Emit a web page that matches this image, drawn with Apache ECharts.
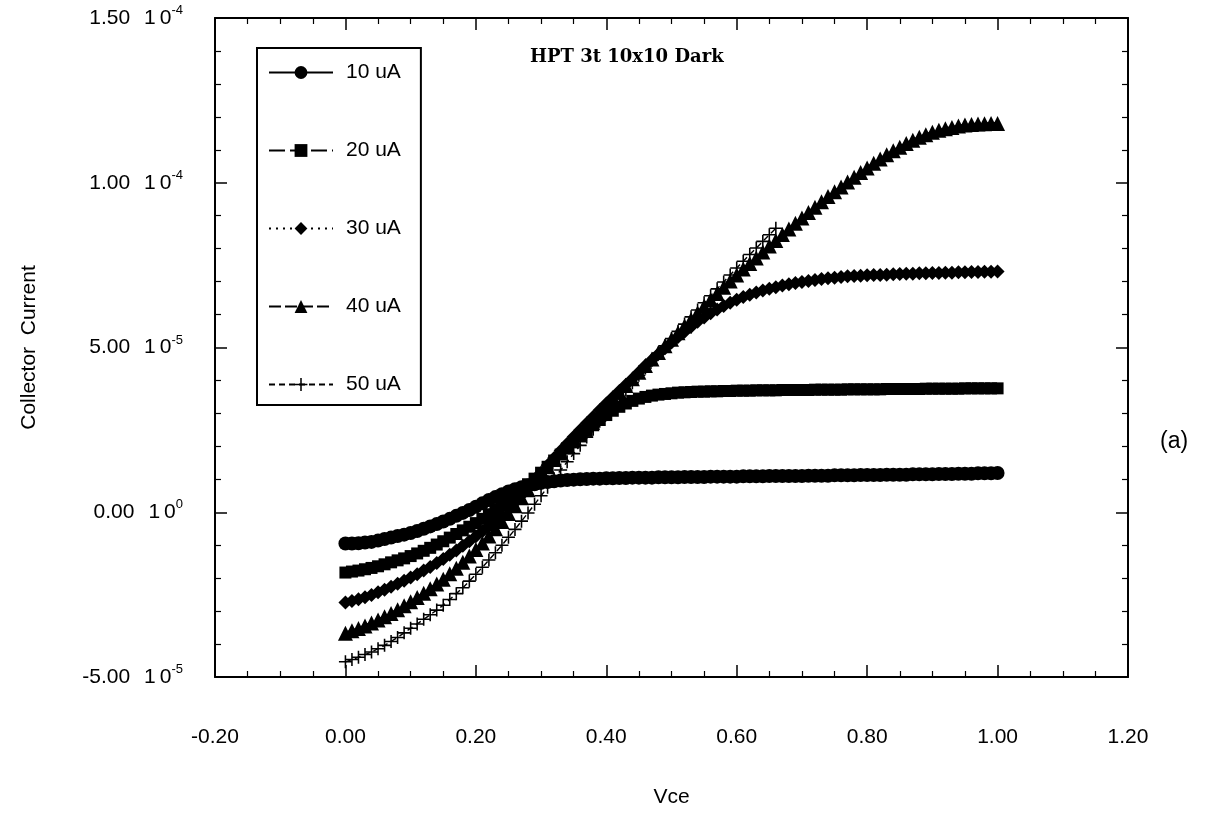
<!DOCTYPE html>
<html>
<head>
<meta charset="utf-8">
<title>HPT 3t 10x10 Dark</title>
<script src="https://cdn.jsdelivr.net/npm/echarts@6/dist/echarts.min.js"></script>
<style>
  html, body { margin: 0; padding: 0; background: #fff; }
  #chart { width: 1210px; height: 813px; }
</style>
</head>
<body>
<div id="chart"></div>
<script>
// Collector-emitter sweep voltage (V)
const vce = [
  0.00, 0.01, 0.02, 0.03, 0.04, 0.05, 0.06, 0.07, 0.08, 0.09,
  0.10, 0.11, 0.12, 0.13, 0.14, 0.15, 0.16, 0.17, 0.18, 0.19,
  0.20, 0.21, 0.22, 0.23, 0.24, 0.25, 0.26, 0.27, 0.28, 0.29,
  0.30, 0.31, 0.32, 0.33, 0.34, 0.35, 0.36, 0.37, 0.38, 0.39,
  0.40, 0.41, 0.42, 0.43, 0.44, 0.45, 0.46, 0.47, 0.48, 0.49,
  0.50, 0.51, 0.52, 0.53, 0.54, 0.55, 0.56, 0.57, 0.58, 0.59,
  0.60, 0.61, 0.62, 0.63, 0.64, 0.65, 0.66, 0.67, 0.68, 0.69,
  0.70, 0.71, 0.72, 0.73, 0.74, 0.75, 0.76, 0.77, 0.78, 0.79,
  0.80, 0.81, 0.82, 0.83, 0.84, 0.85, 0.86, 0.87, 0.88, 0.89,
  0.90, 0.91, 0.92, 0.93, 0.94, 0.95, 0.96, 0.97, 0.98, 0.99,
  1.00
];

// Collector current for each base current, in units of 1e-5 A
const ic10uA = [
  -0.95, -0.95, -0.94, -0.92, -0.90, -0.86, -0.81, -0.77, -0.72, -0.68,
  -0.63, -0.57, -0.50, -0.43, -0.36, -0.28, -0.20, -0.11, -0.02,  0.07,
   0.17,  0.27,  0.37,  0.46,  0.55,  0.63,  0.70,  0.76,  0.81,  0.85,
   0.89,  0.92,  0.94,  0.96,  0.98,  0.99,  1.00,  1.01,  1.02,  1.02,
   1.03,  1.03,  1.04,  1.04,  1.05,  1.05,  1.05,  1.05,  1.06,  1.06,
   1.06,  1.06,  1.07,  1.07,  1.07,  1.07,  1.08,  1.08,  1.08,  1.08,
   1.08,  1.09,  1.09,  1.09,  1.09,  1.10,  1.10,  1.10,  1.10,  1.10,
   1.10,  1.11,  1.11,  1.11,  1.11,  1.12,  1.12,  1.12,  1.12,  1.13,
   1.13,  1.13,  1.13,  1.14,  1.14,  1.14,  1.14,  1.15,  1.15,  1.15,
   1.15,  1.16,  1.16,  1.16,  1.17,  1.17,  1.17,  1.18,  1.18,  1.18,
   1.19
];
const ic20uA = [
  -1.83, -1.80, -1.77, -1.73, -1.69, -1.64, -1.58, -1.52, -1.46, -1.40,
  -1.33, -1.25, -1.17, -1.08, -0.98, -0.88, -0.77, -0.66, -0.55, -0.44,
  -0.33, -0.20, -0.06,  0.08,  0.22,  0.37,  0.52,  0.68,  0.85,  1.02,
   1.20,  1.38,  1.57,  1.75,  1.94,  2.12,  2.30,  2.47,  2.64,  2.80,
   2.95,  3.08,  3.20,  3.30,  3.38,  3.45,  3.50,  3.54,  3.57,  3.59,
   3.61,  3.63,  3.64,  3.65,  3.66,  3.66,  3.67,  3.67,  3.68,  3.68,
   3.69,  3.69,  3.69,  3.70,  3.70,  3.70,  3.70,  3.71,  3.71,  3.71,
   3.71,  3.71,  3.72,  3.72,  3.72,  3.72,  3.72,  3.73,  3.73,  3.73,
   3.73,  3.73,  3.73,  3.74,  3.74,  3.74,  3.74,  3.74,  3.74,  3.75,
   3.75,  3.75,  3.75,  3.75,  3.75,  3.76,  3.76,  3.76,  3.76,  3.76,
   3.76
];
const ic30uA = [
  -2.74, -2.69, -2.64, -2.58, -2.51, -2.43, -2.35, -2.26, -2.17, -2.08,
  -1.98, -1.88, -1.77, -1.66, -1.54, -1.42, -1.29, -1.16, -1.02, -0.88,
  -0.73, -0.58, -0.42, -0.26, -0.10,  0.10,  0.30,  0.52,  0.75,  0.97,
   1.20,  1.43,  1.65,  1.87,  2.08,  2.29,  2.50,  2.70,  2.90,  3.10,
   3.30,  3.49,  3.68,  3.87,  4.05,  4.25,  4.45,  4.63,  4.80,  4.98,
   5.15,  5.32,  5.48,  5.63,  5.78,  5.91,  6.04,  6.15,  6.26,  6.36,
   6.45,  6.53,  6.60,  6.67,  6.73,  6.78,  6.83,  6.88,  6.92,  6.96,
   6.99,  7.02,  7.05,  7.08,  7.10,  7.12,  7.14,  7.16,  7.17,  7.18,
   7.19,  7.20,  7.20,  7.21,  7.22,  7.23,  7.24,  7.24,  7.25,  7.25,
   7.26,  7.26,  7.27,  7.27,  7.28,  7.28,  7.29,  7.29,  7.30,  7.30,
   7.31
];
const ic40uA = [
  -3.67, -3.60, -3.53, -3.45, -3.36, -3.27, -3.17, -3.07, -2.96, -2.84,
  -2.72, -2.59, -2.46, -2.32, -2.18, -2.03, -1.87, -1.70, -1.52, -1.33,
  -1.13, -0.93, -0.72, -0.50, -0.28, -0.04,  0.20,  0.44,  0.68,  0.92,
   1.15,  1.38,  1.60,  1.82,  2.03,  2.24,  2.45,  2.65,  2.85,  3.05,
   3.25,  3.45,  3.65,  3.85,  4.05,  4.25,  4.45,  4.65,  4.85,  5.05,
   5.25,  5.45,  5.65,  5.85,  6.05,  6.25,  6.45,  6.64,  6.83,  7.02,
   7.20,  7.38,  7.55,  7.72,  7.90,  8.08,  8.25,  8.43,  8.60,  8.77,
   8.93,  9.10,  9.26,  9.42,  9.58,  9.73,  9.87, 10.02, 10.17, 10.31,
  10.45, 10.59, 10.72, 10.85, 10.97, 11.08, 11.19, 11.29, 11.38, 11.46,
  11.53, 11.59, 11.64, 11.68, 11.72, 11.75, 11.77, 11.78, 11.79, 11.80,
  11.80
];
// The 50 uA sweep stops at 0.66 V
const ic50uA = [
  -4.54, -4.47, -4.40, -4.32, -4.24, -4.14, -4.04, -3.92, -3.80, -3.66,
  -3.52, -3.39, -3.25, -3.11, -2.97, -2.82, -2.65, -2.47, -2.29, -2.09,
  -1.88, -1.67, -1.45, -1.23, -1.00, -0.76, -0.52, -0.27, -0.02,  0.24,
   0.50,  0.76,  1.02,  1.28,  1.53,  1.78,  2.03,  2.28,  2.52,  2.76,
   3.00,  3.24,  3.47,  3.70,  3.93,  4.16,  4.38,  4.61,  4.83,  5.05,
   5.27,  5.49,  5.71,  5.93,  6.14,  6.36,  6.57,  6.78,  6.99,  7.20,
   7.41,  7.62,  7.82,  8.02,  8.22,  8.42,  8.62
];

const seriesNames = ['10 uA', '20 uA', '30 uA', '40 uA', '50 uA'];
const xTicks = [-0.2, 1.2, 0.2];   // min, max, step (V)
const yTicks = [-5, 15, 5];        // min, max, step (1e-5 A)

const FONT = '"Liberation Sans", Arial, Helvetica, sans-serif';
const plusPath = 'path://M4.4,0H5.6V4.4H10V5.6H5.6V10H4.4V5.6H0V4.4H4.4Z';

function pairs(values) {
  return values.map((v, i) => [vce[i], v]);
}

// "1.50 10^-4" style tick labels
function sciLabel(v) {
  const a = v * 1e-5;
  let exp = 0, man = 0;
  if (Math.abs(a) > 1e-15) {
    exp = Math.floor(Math.log10(Math.abs(a)) + 1e-9);
    man = a / Math.pow(10, exp);
  }
  return '{m|' + man.toFixed(2) + '}{b|1}{c|0}{e|' + exp + '}';
}

const black = '#000';

const styles = [
  { symbol: 'circle',   size: 14, line: { width: 1.2, type: 'solid' } },
  { symbol: 'rect',     size: 12, line: { width: 1.2, type: [16, 5] } },
  { symbol: 'diamond',  size: 14, line: { width: 1.2, type: [2, 5] } },
  { symbol: 'triangle', size: 15, line: { width: 3,   type: [12, 4] } },
  { symbol: plusPath,   size: 13, line: { width: 1.4, type: [6, 4] } }
];
const curves = [ic10uA, ic20uA, ic30uA, ic40uA, ic50uA];

const series = curves.map((vals, k) => ({
  name: seriesNames[k],
  type: 'line',
  xAxisIndex: 0,
  yAxisIndex: 0,
  data: pairs(vals),
  symbol: styles[k].symbol,
  symbolSize: styles[k].size,
  showSymbol: true,
  showAllSymbol: true,
  lineStyle: { color: black, width: styles[k].line.width, type: styles[k].line.type },
  itemStyle: { color: black, borderColor: black, borderWidth: 0 },
  emphasis: { disabled: true },
  z: 3
}));

const axisLine = { show: true, onZero: false, lineStyle: { color: black, width: 2 } };
const majorTick = { show: true, inside: true, length: 12, lineStyle: { color: black, width: 1.5 } };

const chart = echarts.init(document.getElementById('chart'), null, { renderer: 'canvas' });
chart.setOption({
  animation: false,
  backgroundColor: '#fff',
  title: {
    text: 'HPT 3t 10x10 Dark',
    left: 530,
    top: 48,
    padding: 0,
    textStyle: { fontFamily: '"DejaVu Serif", serif', fontWeight: 'bold', fontSize: 18, color: black }
  },
  legend: {
    orient: 'vertical',
    left: 257,
    top: 48,
    padding: [14, 20, 10, 11],
    itemGap: 57,
    itemWidth: 64,
    itemHeight: 16,
    borderColor: black,
    borderWidth: 2,
    backgroundColor: '#fff',
    selectedMode: false,
    textStyle: { fontFamily: FONT, fontSize: 21, color: black, padding: [0, 0, 0, 8] },
    data: seriesNames
  },
  grid: { left: 215, right: 82, top: 18, bottom: 127, containLabel: false },
  xAxis: [
    {
      type: 'value', min: xTicks[0], max: xTicks[1], interval: xTicks[2],
      position: 'bottom',
      name: 'Vce', nameLocation: 'middle', nameGap: 110,
      nameTextStyle: { fontFamily: FONT, fontSize: 21, color: black },
      axisLine: axisLine,
      axisTick: majorTick,
      minorTick: { show: true, splitNumber: 4, length: 6, lineStyle: { color: black, width: 1.2 } },
      axisLabel: {
        margin: 50, fontFamily: FONT, fontSize: 21, color: black,
        formatter: v => v.toFixed(2)
      },
      splitLine: { show: false }
    },
    {
      type: 'value', min: xTicks[0], max: xTicks[1], interval: xTicks[2],
      position: 'top',
      axisLine: axisLine,
      axisTick: majorTick,
      minorTick: { show: true, splitNumber: 4, length: 6, lineStyle: { color: black, width: 1.2 } },
      axisLabel: { show: false },
      splitLine: { show: false }
    }
  ],
  yAxis: [
    {
      type: 'value', min: yTicks[0], max: yTicks[1], interval: yTicks[2],
      position: 'left',
      name: 'Collector  Current', nameLocation: 'middle', nameGap: 175, nameRotate: 90,
      nameTextStyle: { fontFamily: FONT, fontSize: 21, color: black },
      axisLine: axisLine,
      axisTick: majorTick,
      minorTick: { show: true, splitNumber: 5, length: 6, lineStyle: { color: black, width: 1.2 } },
      axisLabel: {
        margin: 32,
        formatter: sciLabel,
        rich: {
          m: { fontFamily: FONT, fontSize: 21, color: black, lineHeight: 28, padding: [0, 14, 0, 0] },
          b: { fontFamily: FONT, fontSize: 21, color: black, lineHeight: 28 },
          c: { fontFamily: FONT, fontSize: 21, color: black, lineHeight: 28, padding: [0, 0, 0, 4] },
          e: { fontFamily: FONT, fontSize: 13, color: black, lineHeight: 13, verticalAlign: 'top' }
        }
      },
      splitLine: { show: false }
    },
    {
      type: 'value', min: yTicks[0], max: yTicks[1], interval: yTicks[2],
      position: 'right',
      axisLine: axisLine,
      axisTick: majorTick,
      minorTick: { show: true, splitNumber: 5, length: 6, lineStyle: { color: black, width: 1.2 } },
      axisLabel: { show: false },
      splitLine: { show: false }
    }
  ],
  graphic: [
    {
      type: 'text',
      left: 1160,
      top: 430,
      style: { text: '(a)', fontFamily: FONT, fontSize: 23, fill: black }
    }
  ],
  series: series
});
</script>
</body>
</html>
